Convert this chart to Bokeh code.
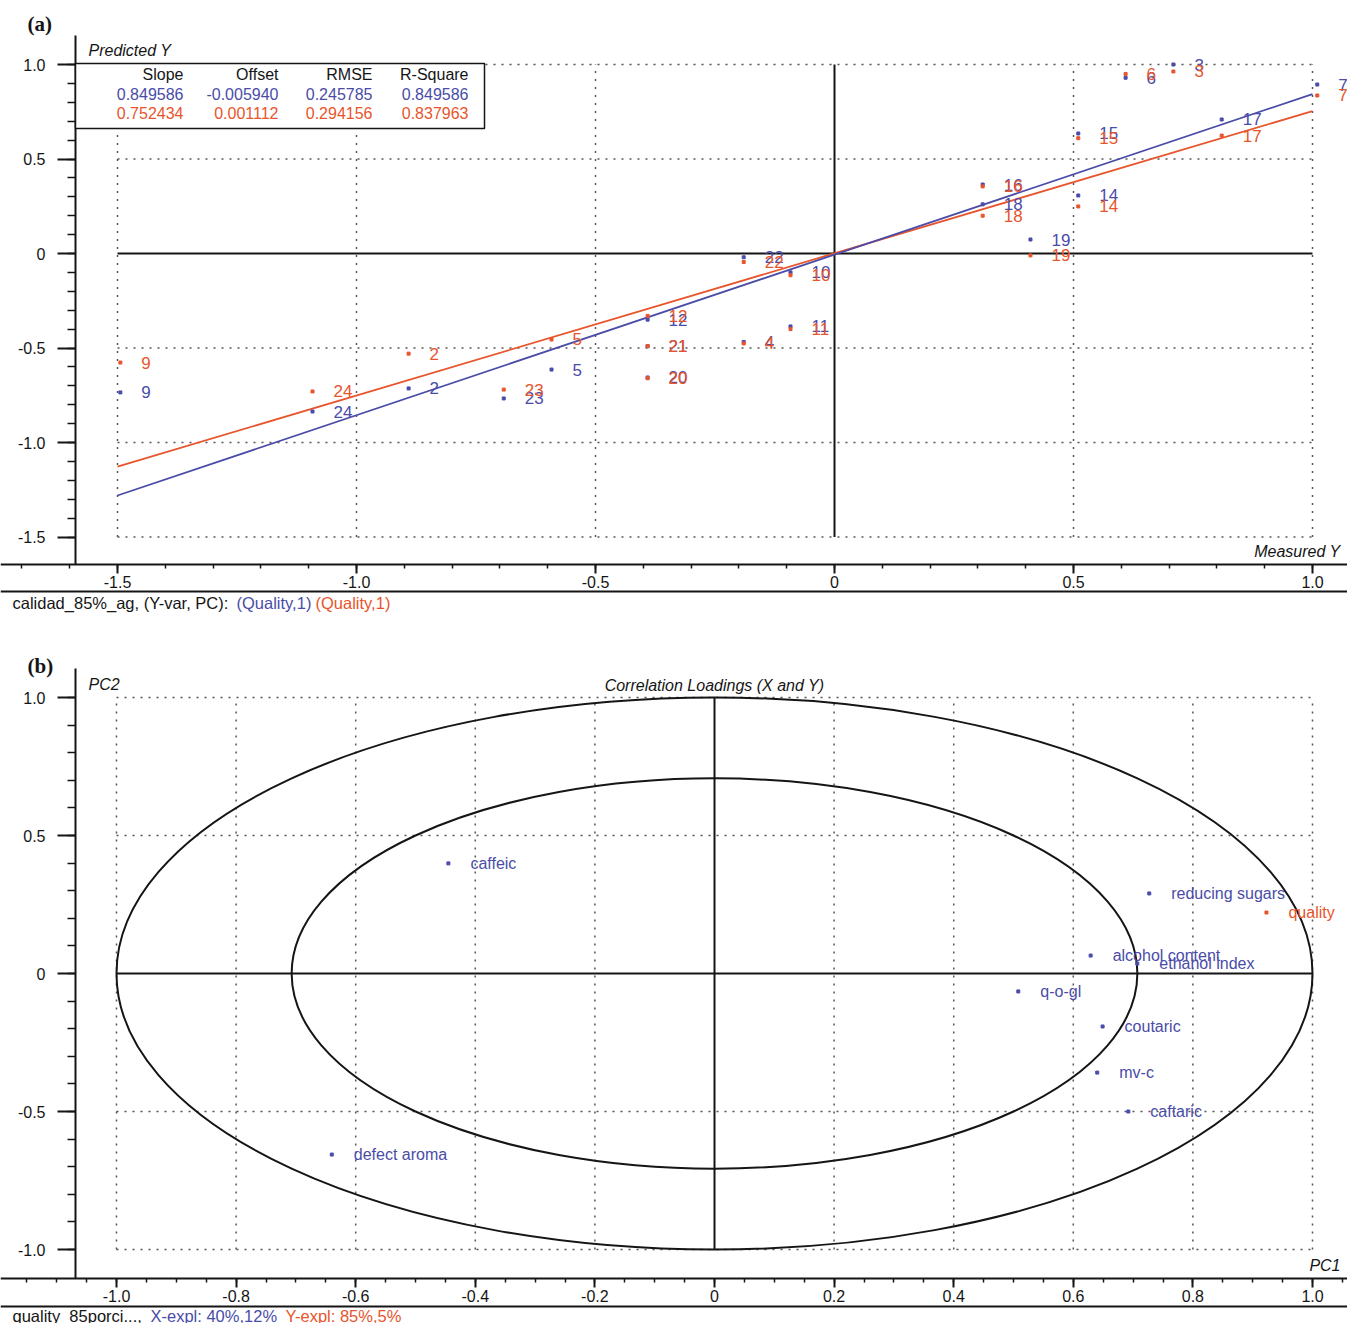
import numpy as np
from bokeh.plotting import figure
from bokeh.models import LinearAxis, FixedTicker, Label, BoxAnnotation, Range1d
from bokeh.layouts import column
from bokeh.embed import file_html
from bokeh.resources import INLINE
from bokeh.core.properties import value

# ---------------- data: panel (a) Predicted vs Measured ----------------
sample_ids = ["2", "3", "4", "5", "6", "7", "9", "10", "11", "12", "14", "15",
              "16", "17", "18", "19", "20", "21", "22", "23", "24"]
measured_y = [-0.891, 0.709, -0.19, -0.592, 0.609, 1.01, -1.494, -0.092, -0.092, -0.391, 0.51, 0.51,
              0.31, 0.81, 0.31, 0.41, -0.391, -0.391, -0.19, -0.692, -1.092]
predicted_blue = [-0.714, 1.0, -0.468, -0.614, 0.93, 0.894, -0.735, -0.10, -0.386, -0.35, 0.307, 0.635,
                  0.365, 0.709, 0.26, 0.074, -0.656, -0.49, -0.02, -0.767, -0.836]
predicted_red = [-0.53, 0.963, -0.476, -0.455, 0.95, 0.836, -0.577, -0.115, -0.40, -0.33, 0.249, 0.61,
                 0.355, 0.624, 0.20, -0.01, -0.66, -0.49, -0.045, -0.72, -0.73]
stat_names = ["Slope", "Offset", "RMSE", "R-Square"]
stats_blue = [0.849586, -0.005940, 0.245785, 0.849586]
stats_red = [0.752434, 0.001112, 0.294156, 0.837963]
fit_x = [-1.5, 1.0]

a_ticks = [-1.5, -1.0, -0.5, 0.0, 0.5, 1.0]
a_tick_labels = ["-1.5", "-1.0", "-0.5", "0", "0.5", "1.0"]
a_grid = [-1.5, -1.0, -0.5, 0.5, 1.0]
a_extent = [-1.5, 1.0]

# ---------------- data: panel (b) correlation loadings ----------------
x_vars = ["caffeic", "reducing sugars", "alcohol content", "ethanol index", "q-o-gl",
          "coutaric", "mv-c", "caftaric", "defect aroma"]
x_pc1 = [-0.445, 0.727, 0.629, 0.707, 0.508, 0.649, 0.640, 0.692, -0.640]
x_pc2 = [0.399, 0.290, 0.065, 0.036, -0.065, -0.192, -0.359, -0.500, -0.656]
y_vars = ["quality"]
y_pc1 = [0.923]
y_pc2 = [0.221]
circle_radii = [1.0, 0.7071]

b_x_ticks = [-1.0, -0.8, -0.6, -0.4, -0.2, 0.0, 0.2, 0.4, 0.6, 0.8, 1.0]
b_x_labels = ["-1.0", "-0.8", "-0.6", "-0.4", "-0.2", "0", "0.2", "0.4", "0.6", "0.8", "1.0"]
b_y_ticks = [-1.0, -0.5, 0.0, 0.5, 1.0]
b_y_labels = ["-1.0", "-0.5", "0", "0.5", "1.0"]
b_grid_x = [-1.0, -0.8, -0.6, -0.4, -0.2, 0.2, 0.4, 0.6, 0.8, 1.0]
b_grid_y = [-1.0, -0.5, 0.5, 1.0]
b_extent = [-1.0, 1.0]

BLUE = "#4a4ca8"
RED = "#e8552c"
INK = "#151515"
GRIDC = "#555555"
FONT = "Liberation Sans"

# pixel -> data helpers (layout only)
def ax(sx): return (sx - 834) / 478.0
def ay(sy): return (253 - sy) / 189.0
def bx(sx): return (sx - 714) / 598.0
def by(sy): return (973 - sy) / 276.0

W = 1347
HA = 625
HB = 1323 - HA


def style_axis(axis, ticks, labels, minor, major_out, minor_out, standoff):
    axis.ticker = FixedTicker(ticks=ticks, minor_ticks=minor)
    axis.major_label_overrides = dict(zip(ticks, labels))
    axis.major_tick_out = major_out
    axis.major_tick_in = 0
    axis.minor_tick_out = minor_out
    axis.minor_tick_in = 0
    axis.major_label_standoff = standoff
    axis.major_label_text_font = FONT
    axis.major_label_text_font_size = "16px"
    axis.major_label_text_color = INK
    axis.axis_line_color = INK
    axis.axis_line_width = 2
    axis.major_tick_line_color = INK
    axis.major_tick_line_width = 2
    axis.minor_tick_line_color = INK
    axis.minor_tick_line_width = 1.5


def border_axis(loc):
    return LinearAxis(ticker=FixedTicker(ticks=[]), major_tick_out=0, major_tick_in=0,
                      minor_tick_out=0, minor_tick_in=0, major_label_standoff=0,
                      major_label_text_font_size="0px", axis_line_color=INK, axis_line_width=2,
                      fixed_location=loc)


def lab(p, x, y, text, color=INK, size="16px", align="left", style="normal",
        font=FONT, baseline="middle"):
    p.add_layout(Label(x=x, y=y, text=text, text_color=color, text_font_size=size,
                       text_align=align, text_font_style=style, text_font=font,
                       text_baseline=baseline))


def base_fig(xr, yr, h):
    p = figure(width=W, height=h, x_range=Range1d(*xr), y_range=Range1d(*yr),
               min_border_left=0, min_border_right=0, min_border_top=0, min_border_bottom=0,
               output_backend="svg", toolbar_location=None, tools="")
    p.grid.visible = False
    p.outline_line_color = None
    p.background_fill_color = "white"
    p.border_fill_color = "white"
    return p


# =========================== panel (a) ===========================
pa = base_fig((ax(0), ax(W)), (ay(HA), ay(0)), HA)

style_axis(pa.xaxis[0], a_ticks, a_tick_labels,
           np.round(np.arange(-1.7, 1.051, 0.1), 2).tolist(), 9, 4, 2)
pa.xaxis[0].fixed_location = ay(564)
style_axis(pa.yaxis[0], a_ticks, a_tick_labels,
           np.round(np.arange(-1.5, 1.001, 0.1), 2).tolist(), 18, 8, 12)
pa.yaxis[0].fixed_location = ax(75)
pa.yaxis[0].bounds = (ay(564), ay(35))
pa.add_layout(border_axis(ay(591)), "below")

n = len(a_grid)
pa.segment(x0=a_grid, y0=[a_extent[0]] * n, x1=a_grid, y1=[a_extent[1]] * n,
           line_color=GRIDC, line_width=1.5, line_dash="2 6")
pa.segment(x0=[a_extent[0]] * n, y0=a_grid, x1=[a_extent[1]] * n, y1=a_grid,
           line_color=GRIDC, line_width=1.5, line_dash="2 6")
pa.segment(x0=[a_extent[0], 0], y0=[0, a_extent[0]], x1=[a_extent[1], 0], y1=[0, a_extent[1]],
           line_color=INK, line_width=2)

for stats, col in ((stats_red, RED), (stats_blue, BLUE)):
    fy = [stats[0] * x + stats[1] for x in fit_x]
    pa.line(fit_x, fy, line_color=col, line_width=1.8)

for preds, col in ((predicted_blue, BLUE), (predicted_red, RED)):
    pa.scatter(measured_y, preds, marker="square", size=3, color=col)
    pa.text(measured_y, preds, text=sample_ids, x_offset=21, text_baseline="middle",
            text_font=value(FONT), text_font_size="17px", text_color=col)

# stats table
pa.add_layout(BoxAnnotation(left=ax(75), right=ax(484), top=ay(63), bottom=ay(128),
                            fill_color="white", fill_alpha=1.0, line_color=INK,
                            line_alpha=1.0, line_width=1.5))
col_right = [183, 278, 372, 468]
for j, name in enumerate(stat_names):
    lab(pa, ax(col_right[j]), ay(74), name, align="right")
    lab(pa, ax(col_right[j]), ay(93), f"{stats_blue[j]:.6f}", color=BLUE, align="right")
    lab(pa, ax(col_right[j]), ay(112), f"{stats_red[j]:.6f}", color=RED, align="right")

lab(pa, ax(27), ay(23), "(a)", size="21px", style="bold", font="Liberation Serif")
lab(pa, ax(88), ay(50), "Predicted Y", style="italic")
lab(pa, ax(1340), ay(551), "Measured Y", style="italic", align="right")
lab(pa, ax(12), ay(602), "calidad_85%_ag, (Y-var, PC):", size="16.5px")
lab(pa, ax(236), ay(602), "(Quality,1)", color=BLUE, size="16.5px")
lab(pa, ax(315), ay(602), "(Quality,1)", color=RED, size="16.5px")

# =========================== panel (b) ===========================
pb = base_fig((bx(0), bx(W)), (by(1323), by(HA)), HB)

style_axis(pb.xaxis[0], b_x_ticks, b_x_labels,
           np.round(np.arange(-1.15, 1.051, 0.05), 3).tolist(), 9, 4, 2)
pb.xaxis[0].fixed_location = by(1278)
style_axis(pb.yaxis[0], b_y_ticks, b_y_labels,
           np.round(np.arange(-1.0, 1.001, 0.1), 2).tolist(), 18, 8, 12)
pb.yaxis[0].fixed_location = bx(75)
pb.yaxis[0].bounds = (by(1278), by(668))
pb.add_layout(border_axis(by(1306)), "below")

nx, ny = len(b_grid_x), len(b_grid_y)
pb.segment(x0=b_grid_x, y0=[b_extent[0]] * nx, x1=b_grid_x, y1=[b_extent[1]] * nx,
           line_color=GRIDC, line_width=1.5, line_dash="2 6")
pb.segment(x0=[b_extent[0]] * ny, y0=b_grid_y, x1=[b_extent[1]] * ny, y1=b_grid_y,
           line_color=GRIDC, line_width=1.5, line_dash="2 6")
pb.segment(x0=[b_extent[0], 0], y0=[0, b_extent[0]], x1=[b_extent[1], 0], y1=[0, b_extent[1]],
           line_color=INK, line_width=2)
pb.ellipse(x=[0] * len(circle_radii), y=[0] * len(circle_radii),
           width=[2 * r for r in circle_radii], height=[2 * r for r in circle_radii],
           fill_color=None, line_color=INK, line_width=2)

pb.scatter(x_pc1, x_pc2, marker="square", size=3, color=BLUE)
pb.text(x_pc1, x_pc2, text=x_vars, x_offset=22, text_baseline="middle",
        text_font=value(FONT), text_font_size="16px", text_color=BLUE)
pb.scatter(y_pc1, y_pc2, marker="square", size=3, color=RED)
pb.text(y_pc1, y_pc2, text=y_vars, x_offset=22, text_baseline="middle",
        text_font=value(FONT), text_font_size="16px", text_color=RED)

lab(pb, bx(27), by(665), "(b)", size="21px", style="bold", font="Liberation Serif")
lab(pb, bx(88), by(684), "PC2", style="italic")
lab(pb, bx(714), by(685), "Correlation Loadings (X and Y)", style="italic", align="center")
lab(pb, bx(1340), by(1265), "PC1", style="italic", align="right")
lab(pb, bx(12), by(1315), "quality_85porci...,", size="16.5px")
lab(pb, bx(150), by(1315), "X-expl: 40%,12%", color=BLUE, size="16.5px")
lab(pb, bx(285), by(1315), "Y-expl: 85%,5%", color=RED, size="16.5px")

layout = column(pa, pb)
open("out.html", "w").write(file_html(layout, INLINE))
